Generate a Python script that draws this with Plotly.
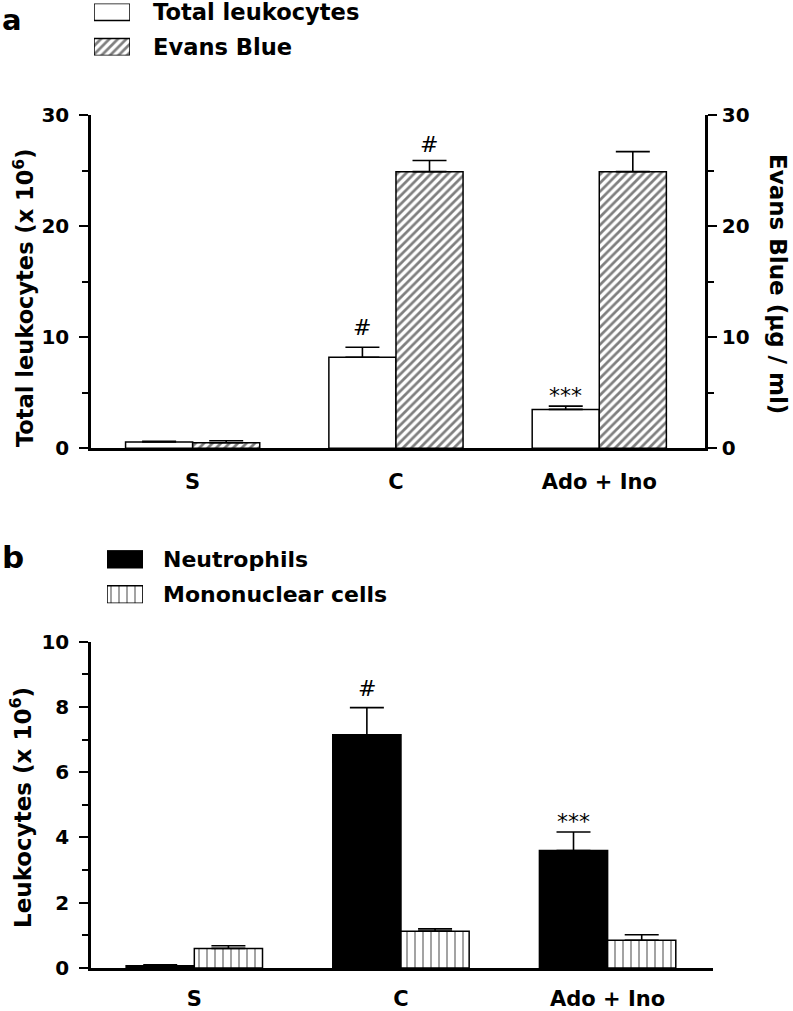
import plotly.graph_objects as go

# ---------------- data ----------------
categories = ["S", "C", "Ado + Ino"]

# panel a
total_leukocytes = [0.57, 8.2, 3.5]
total_leukocytes_err = [0.06, 0.9, 0.3]
evans_blue = [0.5, 24.9, 24.9]
evans_blue_err = [0.18, 1.0, 1.8]
sig_total = ["", "#", "***"]
sig_evans = ["", "#", ""]

# panel b
neutrophils = [0.07, 7.15, 3.6]
neutrophils_err = [0.03, 0.83, 0.57]
mononuclear = [0.6, 1.13, 0.85]
mononuclear_err = [0.08, 0.07, 0.17]
sig_neut = ["", "#", "***"]

yticks_a = [0, 10, 20, 30]
yticks_b = [0, 2, 4, 6, 8, 10]

legend_a = ["Total leukocytes", "Evans Blue"]
legend_b = ["Neutrophils", "Mononuclear cells"]

# ---------------- style ----------------
FONT = "DejaVu Sans"
W, H = 793, 1011
BAR_W = 0.33
LINE = dict(color="black", width=1.5)
HATCH = dict(shape="/", fgcolor="black", bgcolor="white", size=6, solidity=0.45)
VLINES = dict(shape="|", fgcolor="black", bgcolor="white", size=8, solidity=0.18)
SIG_SHIFT = {"#": 5, "***": -4}


def px_y(p):
    return 1 - p / H


def err(vals):
    return dict(type="data", array=vals, arrayminus=[0] * len(vals), symmetric=False,
                color="black", thickness=1.6, width=17)


fig = go.Figure()

# panel a
fig.add_trace(go.Bar(
    x=categories, y=total_leukocytes, name=legend_a[0],
    width=BAR_W, offset=-BAR_W,
    marker=dict(color="white", line=LINE),
    error_y=err(total_leukocytes_err),
    xaxis="x", yaxis="y"))
fig.add_trace(go.Bar(
    x=categories, y=evans_blue, name=legend_a[1],
    width=BAR_W, offset=0,
    marker=dict(color="white", line=LINE, pattern=HATCH),
    error_y=err(evans_blue_err),
    xaxis="x", yaxis="y2"))

# panel b
fig.add_trace(go.Bar(
    x=categories, y=neutrophils, name=legend_b[0],
    width=BAR_W, offset=-BAR_W,
    marker=dict(color="black", line=LINE),
    error_y=err(neutrophils_err),
    xaxis="x2", yaxis="y3"))
fig.add_trace(go.Bar(
    x=categories, y=mononuclear, name=legend_b[1],
    width=BAR_W, offset=0,
    marker=dict(color="white", line=LINE, pattern=VLINES),
    error_y=err(mononuclear_err),
    xaxis="x2", yaxis="y3"))

# legend swatches (drawn as bars on small dedicated axes)
SW_A = 0.486
SW_B = 0.49
fig.add_trace(go.Bar(orientation="h", y=[legend_a[0]], x=[1], width=SW_A,
                     marker=dict(color="white", line=LINE), cliponaxis=False,
                     xaxis="x3", yaxis="y4", hoverinfo="skip"))
fig.add_trace(go.Bar(orientation="h", y=[legend_a[1]], x=[1], width=SW_A,
                     marker=dict(color="white", line=LINE, pattern=HATCH), cliponaxis=False,
                     xaxis="x3", yaxis="y4", hoverinfo="skip"))
fig.add_trace(go.Bar(orientation="h", y=[legend_b[0]], x=[1], width=SW_B,
                     marker=dict(color="black", line=LINE), cliponaxis=False,
                     xaxis="x4", yaxis="y5", hoverinfo="skip"))
fig.add_trace(go.Bar(orientation="h", y=[legend_b[1]], x=[1], width=SW_B,
                     marker=dict(color="white", line=LINE, pattern=VLINES), cliponaxis=False,
                     xaxis="x4", yaxis="y5", hoverinfo="skip"))

tickfont = dict(family=FONT, size=20, color="black", weight="bold")
xcommon = dict(type="category", showline=True, linecolor="black", linewidth=2.5,
               ticks="", showgrid=False, zeroline=False,
               tickfont=dict(tickfont, size=21))
minor = dict(ticks="outside", ticklen=6, tickwidth=2, tickcolor="black", showgrid=False)
ycommon = dict(showline=True, linecolor="black", linewidth=2.5, ticks="outside",
               ticklen=9, tickwidth=2, tickcolor="black", showgrid=False, zeroline=False,
               tickfont=tickfont)
hidden = dict(visible=False, showgrid=False, zeroline=False, fixedrange=True)

fig.update_layout(
    width=W, height=H,
    margin=dict(l=0, r=0, t=0, b=0, autoexpand=False),
    paper_bgcolor="white", plot_bgcolor="white",
    barmode="overlay",
    showlegend=False,
    font=dict(family=FONT, color="black"),
    xaxis=dict(domain=[91 / W, 705 / W], range=[-0.5, 2.52], anchor="y",
               ticklabelstandoff=13, **xcommon),
    yaxis=dict(domain=[px_y(448.3), px_y(115)], range=[0, 30], tickvals=yticks_a,
               anchor="x", ticklabelstandoff=6, minor=dict(minor, dtick=5, tick0=0), **ycommon),
    yaxis2=dict(domain=[px_y(448.3), px_y(115)], range=[0, 30], tickvals=yticks_a,
                overlaying="y", side="right", anchor="x", ticklabelstandoff=1,
                minor=dict(minor, dtick=5, tick0=0), **ycommon),
    xaxis2=dict(domain=[91 / W, 713 / W], range=[-0.5, 2.51], anchor="y3",
                ticklabelstandoff=10, **xcommon),
    yaxis3=dict(domain=[px_y(968), px_y(641.7)], range=[0, 10], tickvals=yticks_b,
                anchor="x2", ticklabelstandoff=6, minor=dict(minor, dtick=1, tick0=0), **ycommon),
    xaxis3=dict(domain=[94 / W, 130 / W], range=[0, 1], anchor="y4", **hidden),
    yaxis4=dict(domain=[px_y(55.5), px_y(3.5)], range=[1 + SW_A / 2, -SW_A / 2],
                type="category", categoryarray=legend_a, anchor="x3", **hidden),
    xaxis4=dict(domain=[107 / W, 143 / W], range=[0, 1], anchor="y5", **hidden),
    yaxis5=dict(domain=[px_y(603.25), px_y(550.25)], range=[1 + SW_B / 2, -SW_B / 2],
                type="category", categoryarray=legend_b, anchor="x4", **hidden),
)

ann = []
for i, lab in enumerate(legend_a):
    ann.append(dict(text=lab, x=151 / W, y=px_y([12, 47][i]), xref="paper", yref="paper",
                    xanchor="left", yanchor="middle", showarrow=False,
                    font=dict(family=FONT, size=22.6, color="black", weight="bold")))
for i, lab in enumerate(legend_b):
    ann.append(dict(text=lab, x=161 / W, y=px_y([559, 594.5][i]), xref="paper", yref="paper",
                    xanchor="left", yanchor="middle", showarrow=False,
                    font=dict(family=FONT, size=22, color="black", weight="bold")))

# panel letters
letter_font = dict(family=FONT, size=29, color="black", weight="bold")
ann.append(dict(text="a", x=0, y=px_y(19.5), xref="paper", yref="paper", xanchor="left",
                yanchor="middle", showarrow=False, font=letter_font))
ann.append(dict(text="b", x=0, y=px_y(557), xref="paper", yref="paper", xanchor="left",
                yanchor="middle", showarrow=False, font=dict(letter_font, size=31)))

# axis titles
title_font = dict(family=FONT, size=23, color="black", weight="bold")
ann.append(dict(text="Total leukocytes (x 10<sup>6</sup>)", x=23 / W, y=px_y(298),
                xref="paper", yref="paper", textangle=-90, showarrow=False,
                xanchor="center", yanchor="middle", font=dict(title_font, size=22.5)))
ann.append(dict(text="Evans Blue (µg / ml)", x=778 / W, y=px_y(284),
                xref="paper", yref="paper", textangle=90, showarrow=False,
                xanchor="center", yanchor="middle", font=title_font))
ann.append(dict(text="Leukocytes (x 10<sup>6</sup>)", x=21 / W, y=px_y(808),
                xref="paper", yref="paper", textangle=-90, showarrow=False,
                xanchor="center", yanchor="middle", font=title_font))

sig_font = dict(family=FONT, size=22, color="black")
for i, c in enumerate(categories):
    if sig_total[i]:
        ann.append(dict(text=sig_total[i], x=c, y=total_leukocytes[i] + total_leukocytes_err[i],
                        xref="x", yref="y", xshift=-33.5, yshift=SIG_SHIFT[sig_total[i]],
                        yanchor="bottom", showarrow=False, font=sig_font))
    if sig_evans[i]:
        ann.append(dict(text=sig_evans[i], x=c, y=evans_blue[i] + evans_blue_err[i],
                        xref="x", yref="y2", xshift=33.5, yshift=SIG_SHIFT[sig_evans[i]] - 3,
                        yanchor="bottom", showarrow=False, font=sig_font))
    if sig_neut[i]:
        ann.append(dict(text=sig_neut[i], x=c, y=neutrophils[i] + neutrophils_err[i],
                        xref="x2", yref="y3", xshift=-34, yshift=SIG_SHIFT[sig_neut[i]],
                        yanchor="bottom", showarrow=False, font=sig_font))
fig.update_layout(annotations=ann)

fig.write_html(
    "out.html",
    config={"displayModeBar": False},
    post_script="document.body.style.margin='0';document.body.style.overflow='hidden';",
)
